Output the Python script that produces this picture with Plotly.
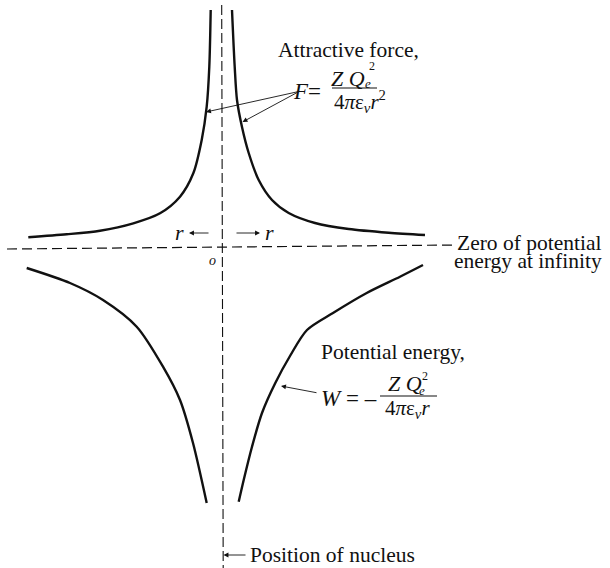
import plotly.graph_objects as go

# ---- Data (horizontal: distance r from nucleus, vertical: value; arbitrary units) ----
force_right_r = [10, 12.7, 15, 20, 26.7, 36.7, 50, 66.7, 93, 126.7, 166.7, 203]
force_right_v = [238, 181.3, 148, 121, 95, 68, 48, 35, 25, 19, 15.3, 13]

force_left_r = [-11.3, -12.7, -15.3, -20.3, -28.7, -42, -62, -88.7, -122, -155.3, -193.7]
force_left_v = [238, 181.3, 141.3, 108, 74.7, 51.3, 34.7, 24.7, 17.3, 13.7, 10.7]

energy_right_r = [201, 178, 144.7, 111, 85, 68, 53.3, 40, 30, 21.7, 16.7]
energy_right_v = [-17, -28.7, -45, -65, -82, -108, -135, -165, -198.7, -232, -253.7]

energy_left_r = [-195.3, -152, -119, -85.3, -59, -42, -29, -15.3]
energy_left_v = [-20, -35, -52, -78.7, -118.7, -152, -195, -255]

label_force = "Attractive force,"
label_energy = "Potential energy,"
label_zero = ["Zero of potential", "energy at infinity"]
label_nucleus = "Position of nucleus"

SERIF = "Liberation Serif, DejaVu Serif, serif"
INK = "#111"
BASE = 21.5


def P(px, py):
    """Convert picture position to axis coordinates (axis origin at nucleus)."""
    return px - 222, 248 - py


fig = go.Figure()
for xs, ys in [(force_right_r, force_right_v), (force_left_r, force_left_v),
               (energy_right_r, energy_right_v), (energy_left_r, energy_left_v)]:
    fig.add_trace(go.Scatter(x=xs, y=ys, mode="lines",
                             line=dict(color=INK, width=2.4, shape="spline", smoothing=0.8),
                             hoverinfo="skip"))

shapes = []
# zero line (horizontal) and nucleus line (vertical)
x0, y0 = P(7, 249)
x1, y1 = P(455, 245)
shapes.append(dict(type="line", x0=x0, y0=y0, x1=x1, y1=y1, xref="x", yref="y",
                   line=dict(color=INK, width=1.2, dash="10px,5px")))
x0, y0 = P(221.7, 5)
x1, y1 = P(223.2, 568)
shapes.append(dict(type="line", x0=x0, y0=y0, x1=x1, y1=y1, xref="x", yref="y",
                   line=dict(color=INK, width=1.1, dash="10px,4px")))
# fraction bars
for (a, b, yy) in [(332, 377, 88), (380, 437, 396)]:
    xa, ya = P(a, yy)
    xb, _ = P(b, yy)
    shapes.append(dict(type="line", x0=xa, y0=ya, x1=xb, y1=ya, xref="x", yref="y",
                       line=dict(color=INK, width=1.1)))

annotations = []


def text(px, py, s, size=BASE, xanchor="center", italic=False):
    x, y = P(px, py)
    if italic:
        s = "<i>" + s + "</i>"
    annotations.append(dict(x=x, y=y, xref="x", yref="y", text=s, showarrow=False,
                            xanchor=xanchor, yanchor="middle",
                            font=dict(family=SERIF, size=size, color=INK)))


def arrow(hx, hy, tx, ty, width=0.9):
    x, y = P(hx, hy)
    ax, ay = P(tx, ty)
    annotations.append(dict(x=x, y=y, ax=ax, ay=ay, xref="x", yref="y",
                            axref="x", ayref="y", text="", showarrow=True,
                            arrowhead=2, arrowsize=1.1, arrowwidth=width,
                            arrowcolor=INK, standoff=0, startstandoff=0))


# Attractive force labels
text(348, 50, label_force)
text(323, 91, "<i>F</i>=", size=23, xanchor="right")
text(348, 78, "Z Q", size=22, italic=True)
text(372, 66, "2", size=12)
text(368, 83, "e", size=13, italic=True)
text(360, 101, "4<i>π</i>ε<sub><i>v</i></sub><i>r</i><sup>2</sup>", size=21)
arrow(206, 112, 301, 91)
arrow(242.5, 122, 300, 91)

# Potential energy labels
text(393, 352, label_energy)
text(319, 398, "<i>W</i> = –", size=23, xanchor="left")
text(405, 383, "Z Q", size=22, italic=True)
text(425, 376, "2", size=12)
text(422, 390, "e", size=13, italic=True)
text(407, 409, "4<i>π</i>ε<sub><i>v</i></sub><i>r</i>", size=21)
arrow(281, 386, 318, 393)

# Zero line label
text(604, 243, label_zero[0], xanchor="right")
text(604, 261, label_zero[1], xanchor="right")

# r arrows and origin
text(179, 232, "r", size=22, italic=True)
arrow(189, 233, 210, 233)
text(269, 232, "r", size=22, italic=True)
arrow(260, 233, 235, 233)
text(212, 260, "o", size=14, italic=True)

# nucleus label
text(248, 555, label_nucleus, xanchor="left")
arrow(223.5, 555, 247, 555)

xr0, yr0 = P(0, 568)
xr1, yr1 = P(610, 0)
fig.update_layout(
    width=610, height=568,
    margin=dict(l=0, r=0, t=0, b=0),
    paper_bgcolor="white", plot_bgcolor="white",
    showlegend=False,
    shapes=shapes, annotations=annotations,
    xaxis=dict(range=[xr0, xr1], visible=False, fixedrange=True),
    yaxis=dict(range=[yr0, yr1], visible=False, fixedrange=True),
)

fig.write_html("out.html",
               config={"displayModeBar": False},
               post_script="document.body.style.margin='0px';"
                           "document.body.style.overflow='hidden';")
